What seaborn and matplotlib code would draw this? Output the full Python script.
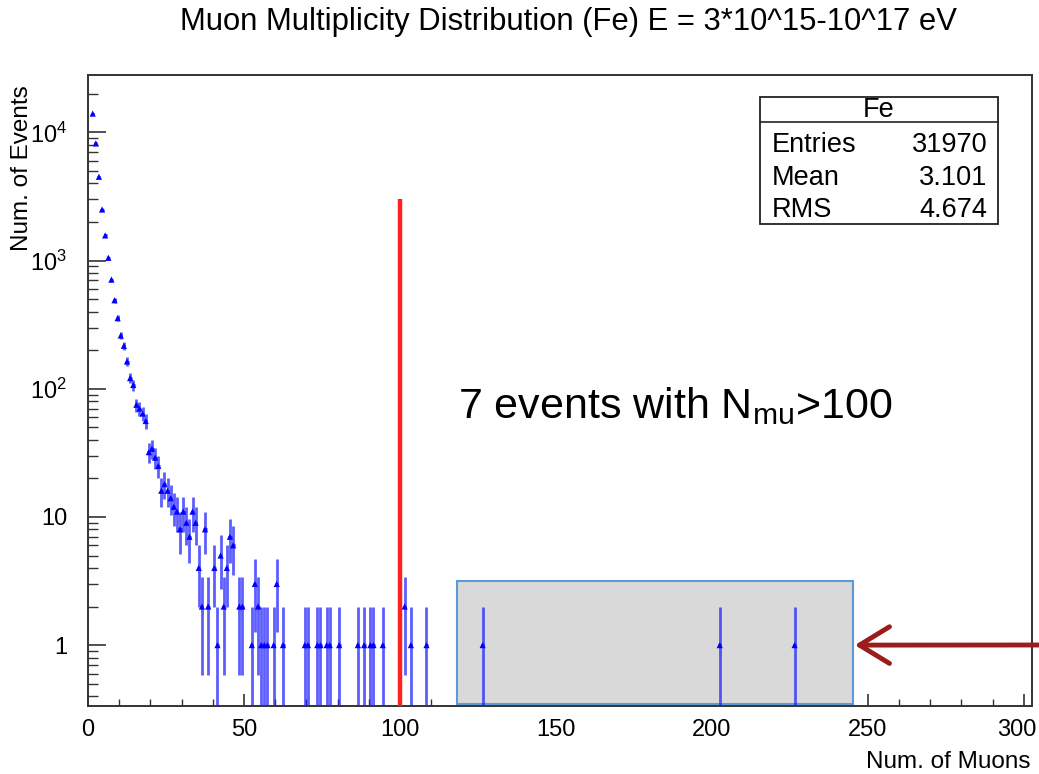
import numpy as np
import pandas as pd
import matplotlib
matplotlib.use("Agg")
import matplotlib.pyplot as plt
import matplotlib.transforms as mtransforms
from matplotlib.patches import Rectangle
from matplotlib.ticker import FixedLocator, LogLocator, MultipleLocator, NullFormatter
import seaborn as sns

# ---------------- data ----------------
n_muons = [1, 2, 3, 4, 5, 6, 7, 8, 9, 10, 11, 12, 13, 14, 15, 16, 17, 18,
           19, 20, 21, 22, 23, 24, 25, 26, 27, 28, 29, 30, 31, 32, 33, 34,
           35, 36, 37, 38, 40, 41, 42, 43, 44, 45, 46, 48, 49,
           52, 53, 54, 55, 56, 57, 59, 60, 62, 69, 70, 73, 74, 76, 77, 80,
           86, 88, 90, 91, 94, 101, 103, 108, 126, 202, 226]
n_events = [14000, 8200, 4500, 2500, 1570, 1050, 710, 490, 355, 260, 216, 163, 121, 107, 75, 70, 64, 56,
            32, 34, 29, 25, 16, 18, 16, 14, 12, 11, 8, 11, 9, 7, 11, 9,
            4, 2, 8, 2, 4, 1, 5, 2, 4, 7, 6, 2, 2,
            1, 3, 2, 1, 1, 1, 1, 3, 1, 1, 1, 1, 1, 1, 1, 1,
            1, 1, 1, 1, 1, 2, 1, 1, 1, 1, 1]

cut_value = 100
cut_line_top = 3000
box_x = [118.3, 245.2]
box_y = [0.345, 3.15]
arrow_target = (245.8, 1.0)

title = "Muon Multiplicity Distribution (Fe) E = 3*10^15-10^17 eV"
x_label = "Num. of Muons"
y_label = "Num. of Events"
annotation = "7 events with N$_{mu}$>100"
stats_title = "Fe"
stats_names = ["Entries", "Mean", "RMS"]
stats_values = ["31970", "3.101", "4.674"]
x_ticks = [0, 50, 100, 150, 200, 250, 300]
y_ticks = [1, 10, 100, 1000, 10000]
y_ticklabels = ["1", "10", "$10^{2}$", "$10^{3}$", "$10^{4}$"]

# ---------------- style ----------------
sns.set_theme(style="white")
plt.rcParams["font.family"] = ["Liberation Sans", "DejaVu Sans"]
plt.rcParams["mathtext.fontset"] = "custom"
plt.rcParams["mathtext.rm"] = "Liberation Sans"
plt.rcParams["mathtext.it"] = "Liberation Sans:italic"
plt.rcParams["mathtext.default"] = "regular"
plt.rcParams["text.color"] = "black"
plt.rcParams["xtick.color"] = "#333333"
plt.rcParams["ytick.color"] = "#333333"
plt.rcParams["xtick.labelcolor"] = "black"
plt.rcParams["ytick.labelcolor"] = "black"

df = pd.DataFrame({"x": np.array(n_muons) + 0.5, "y": n_events})
err = np.sqrt(df["y"].values)
low = np.clip(df["y"].values - err, 1e-3, None)
high = df["y"].values + err

fig = plt.figure(figsize=(10.39, 7.74), dpi=100)
ax = fig.add_axes([88 / 1039, 1 - 706 / 774, (1032 - 88) / 1039, (706 - 75) / 774])
ax.set_yscale("log")
ax.set_xlim(0, 302.6)
ax.set_ylim(0.335, 28000)

# grey highlight box
ax.add_patch(Rectangle((box_x[0], box_y[0]), box_x[1] - box_x[0], box_y[1] - box_y[0],
                       facecolor="#d9d9d9", edgecolor="#5b9bd5", lw=1.5, zorder=1))

# error bars
ax.vlines(df["x"], low, high, color="#1a1aff", lw=2.0, alpha=0.7, zorder=3)
ax.hlines(df["y"], df["x"] - 0.5, df["x"] + 0.5, color="#1a1aff", lw=2.0, alpha=0.9, zorder=3)
sns.scatterplot(data=df, x="x", y="y", ax=ax, marker="^", s=20, color="#0000ff",
                edgecolor="none", zorder=4, legend=False)

# cut line
ax.vlines(cut_value, ax.get_ylim()[0], cut_line_top, color="#ff2020", lw=3.2, zorder=5)

# annotation text
ax.text(box_x[0] + 0.2, 59, annotation, fontsize=31, color="black", ha="left", va="baseline")

# arrow
ax.annotate("", xy=arrow_target, xycoords="data", xytext=(1.0, 1 - 645 / 774),
            textcoords="figure fraction",
            arrowprops=dict(arrowstyle="->,head_length=0.9,head_width=0.55", lw=3.5,
                            color="#9b1c1c", mutation_scale=24, shrinkA=0, shrinkB=0),
            annotation_clip=False)

# stats box
sx0, sx1, sy0, sy1 = 0.712, 0.964, 0.764, 0.965
ax.add_patch(Rectangle((sx0, sy0), sx1 - sx0, sy1 - sy0, transform=ax.transAxes,
                       facecolor="white", edgecolor="#222222", lw=1.3, zorder=6))
ax.plot([sx0, sx1], [0.9255, 0.9255], transform=ax.transAxes, color="#222222", lw=1.2, zorder=7)
ax.text((sx0 + sx1) / 2, 0.9445, stats_title, transform=ax.transAxes, ha="center", va="center",
        fontsize=19.5, zorder=7)
for yy, nm, val in zip([0.889, 0.837, 0.786], stats_names, stats_values):
    ax.text(0.7246, yy, nm, transform=ax.transAxes, ha="left", va="center", fontsize=19.5, zorder=7)
    ax.text(0.953, yy, val, transform=ax.transAxes, ha="right", va="center", fontsize=19.5, zorder=7)

# axes styling
for side in ["top", "right", "left", "bottom"]:
    ax.spines[side].set_color("#333333")
    ax.spines[side].set_linewidth(1.4)
ax.xaxis.set_major_locator(FixedLocator(x_ticks))
ax.xaxis.set_minor_locator(MultipleLocator(10))
ax.set_xticklabels([str(t) for t in x_ticks])
ax.yaxis.set_major_locator(FixedLocator(y_ticks))
ax.set_yticklabels(y_ticklabels)
ax.yaxis.set_minor_locator(LogLocator(base=10, subs=np.arange(2, 10)))
ax.yaxis.set_minor_formatter(NullFormatter())
ax.tick_params(axis="x", which="major", direction="in", length=9, width=1.2,
               labelsize=17, pad=9, top=False, bottom=True)
ax.tick_params(axis="x", which="minor", direction="in", length=5, width=1.0,
               top=False, bottom=True)
ax.tick_params(axis="y", which="major", direction="in", length=13, width=1.2,
               labelsize=17, pad=15, left=True, right=False)
ax.tick_params(axis="y", which="minor", direction="in", length=7, width=1.0,
               left=True, right=False)
ax.set_xlabel("")
ax.set_ylabel("")
# keep the last x label inside the figure
last = ax.get_xticklabels()[-1]
last.set_transform(last.get_transform() + mtransforms.ScaledTranslation(-7 / 100, 0, fig.dpi_scale_trans))

fig.text(568 / 1039, 1 - 22 / 774, title, ha="center", va="center", fontsize=22.3)
fig.text(1030 / 1039, 1 - 762 / 774, x_label, ha="right", va="center", fontsize=17.5)
fig.text(22 / 1039, 1 - 85 / 774, y_label, ha="center", va="top", rotation=90, fontsize=17.5)

fig.savefig("out.png", dpi=100)
